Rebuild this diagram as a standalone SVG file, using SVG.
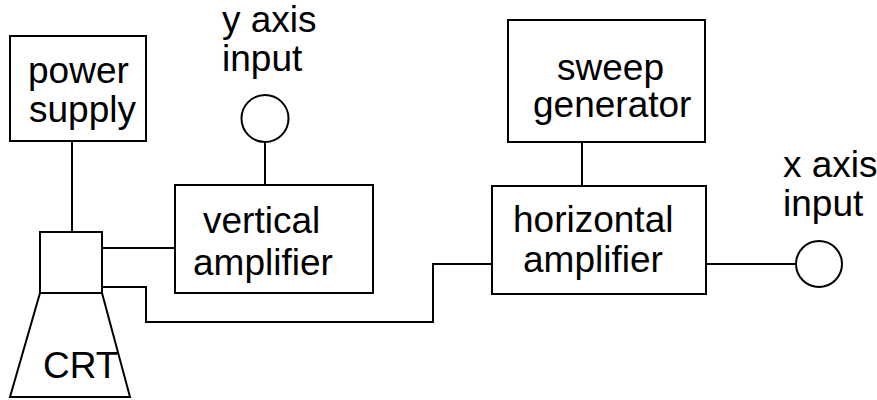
<svg xmlns="http://www.w3.org/2000/svg" width="877" height="400" viewBox="0 0 877 400">
  <style>
    .box { fill: #ffffff; stroke: #000000; stroke-width: 2; }
    .wire { fill: none; stroke: #000000; stroke-width: 2; }
    .lbl { font-family: "Liberation Sans", Arial, sans-serif; font-size: 37px; fill: #000000; }
  </style>
  <rect width="877" height="400" fill="#ffffff"/>

  <!-- connectors -->
  <g id="connectors" class="wire">
    <line x1="72" y1="141" x2="72" y2="232"/>
    <line x1="99" y1="248" x2="175" y2="248"/>
    <polyline points="99,287 146,287 146,322 433,322 433,264 492,264"/>
    <line x1="265" y1="142" x2="265" y2="185"/>
    <line x1="582" y1="142" x2="582" y2="186"/>
    <line x1="706" y1="264" x2="796" y2="264"/>
  </g>

  <g id="power-supply">
    <rect class="box" x="10" y="36" width="136" height="105"/>
    <text class="lbl" x="28" y="83">power</text>
    <text class="lbl" x="29" y="122">supply</text>
  </g>

  <g id="crt">
    <rect class="box" x="40" y="232" width="62" height="61"/>
    <polygon class="box" points="40,293 102,293 130,397 10,397"/>
    <text class="lbl" x="43" y="378">CRT</text>
  </g>

  <g id="y-axis-input">
    <circle class="box" cx="265" cy="118.5" r="23.5"/>
    <text class="lbl" x="222" y="32">y axis</text>
    <text class="lbl" x="222" y="71">input</text>
  </g>

  <g id="vertical-amplifier">
    <rect class="box" x="175" y="185" width="198" height="108"/>
    <text class="lbl" x="203" y="233">vertical</text>
    <text class="lbl" x="193" y="275">amplifier</text>
  </g>

  <g id="sweep-generator">
    <rect class="box" x="508" y="20" width="197" height="122"/>
    <text class="lbl" x="557" y="80">sweep</text>
    <text class="lbl" x="533" y="117">generator</text>
  </g>

  <g id="horizontal-amplifier">
    <rect class="box" x="492" y="186" width="214" height="108"/>
    <text class="lbl" x="513" y="232">horizontal</text>
    <text class="lbl" x="523" y="272">amplifier</text>
  </g>

  <g id="x-axis-input">
    <circle class="box" cx="819" cy="264" r="23"/>
    <text class="lbl" x="783" y="177">x axis</text>
    <text class="lbl" x="783" y="216">input</text>
  </g>
</svg>
